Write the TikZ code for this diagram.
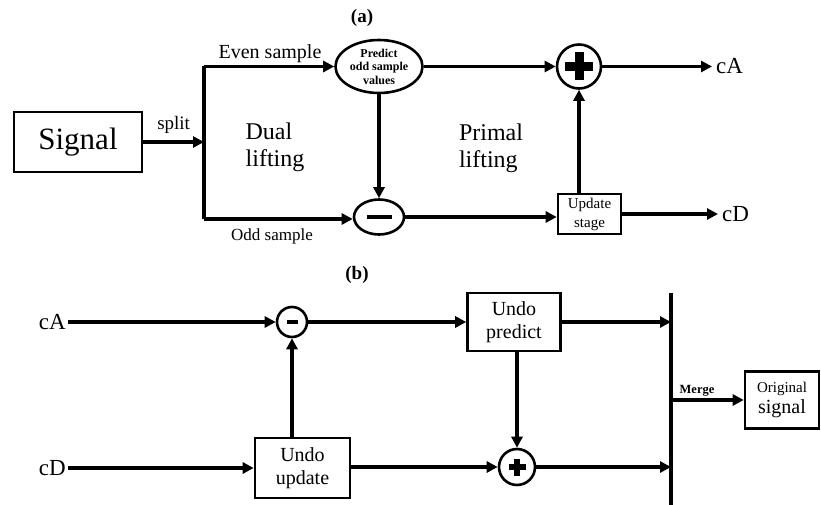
\documentclass[tikz,border=0pt]{standalone}
\usepackage{fontspec}
\setmainfont{Liberation Serif}
\usetikzlibrary{arrows.meta,shapes.geometric}
\tikzset{
  arr/.style={line width=3.3pt,-{Triangle[length=11pt,width=11pt]}},
  ln/.style={line width=3.3pt},
  blk/.style={draw,line width=2.6pt,rectangle,inner sep=0pt,align=center},
  ell/.style={draw,line width=2.6pt,ellipse,inner sep=0pt},
  lbl/.style={inner sep=0pt},
}
\begin{document}
\begin{tikzpicture}[x=1pt,y=-1pt]
\useasboundingbox (0,0) rectangle (821,505);
% ---------------- (a)
\node[lbl,font=\fontsize{19}{19}\selectfont\bfseries] (ta) at (362,18) {(a)};
\node[blk,minimum width=128pt,minimum height=60pt,font=\fontsize{31}{31}\selectfont] (signal) at (78,142) {Signal};
\coordinate (stop) at (204,66.5);
\coordinate (smid) at (204,142);
\coordinate (sbot) at (204,219);
\draw[arr] (signal.east) -- (smid) node[midway,above=3pt,font=\fontsize{19}{19}\selectfont] (split) {split};
\draw[ln] (stop) -- (sbot);
\node[ell,minimum width=87pt,minimum height=53pt,align=center,font=\fontsize{12}{13.5}\selectfont\bfseries] (pred) at (379,66.5) {Predict\\odd sample\\values};
\node[ell,minimum width=50pt,minimum height=35pt] (minus1) at (379,217) {};
\fill (minus1.center) +(-12.5,-1.7) rectangle +(12.5,1.7);
\node[ell,circle,minimum size=44pt] (plus1) at (579,66.5) {};
\fill (plus1.center) +(-14,-4.5) rectangle +(14,4.5);
\fill (plus1.center) +(-4.5,-14) rectangle +(4.5,14);
\node[blk,minimum width=63pt,minimum height=40pt,font=\fontsize{15}{19}\selectfont] (upd) at (589.5,214) {Update\\stage};
\node[lbl,anchor=west,inner sep=4pt,font=\fontsize{23}{23}\selectfont] (cA) at (712,66.5) {cA};
\node[lbl,anchor=west,inner sep=4pt,font=\fontsize{23}{23}\selectfont] (cD) at (718,214) {cD};
\draw[arr] (stop) -- (pred.west);
\node[lbl,font=\fontsize{20}{20}\selectfont] (even) at (270,54) {Even sample};
\draw[arr] (sbot) -- (minus1.west |- sbot);
\node[lbl,font=\fontsize{17}{17}\selectfont] (odd) at (272,236) {Odd sample};
\draw[arr] (pred.south) -- (minus1.north);
\draw[arr] (minus1.east) -- (minus1.east -| upd.west);
\draw[arr] (pred.east) -- (plus1.west);
\draw[arr] (plus1.east) -- (cA.west);
\draw[arr] (upd.east) -- (cD.west);
\draw[arr] (upd.north -| plus1.south) -- (plus1.south);
\node[lbl,align=left,font=\fontsize{24}{27}\selectfont] (dual) at (275,147) {Dual\\lifting};
\node[lbl,align=left,font=\fontsize{24}{27}\selectfont] (primal) at (491,148) {Primal\\lifting};
% ---------------- (b)
\node[lbl,font=\fontsize{19}{19}\selectfont\bfseries] (tb) at (357,275) {(b)};
\node[lbl,anchor=east,inner sep=2pt,font=\fontsize{23}{23}\selectfont] (cA2) at (68,322) {cA};
\node[lbl,anchor=east,inner sep=2pt,font=\fontsize{23}{23}\selectfont] (cD2) at (68,468) {cD};
\node[ell,circle,minimum size=30pt] (minus2) at (292,322) {};
\fill (minus2.center) +(-5.5,-1.7) rectangle +(5.5,1.7);
\node[ell,circle,minimum size=36pt] (plus2) at (517,467) {};
\fill (plus2.center) +(-8.5,-2.7) rectangle +(8.5,2.7);
\fill (plus2.center) +(-2.7,-8.5) rectangle +(2.7,8.5);
\node[blk,minimum width=95pt,minimum height=60pt,font=\fontsize{20}{23}\selectfont] (uupd) at (302.5,468) {Undo\\update};
\node[blk,minimum width=93pt,minimum height=58pt,font=\fontsize{20}{23}\selectfont] (upred) at (514,322) {Undo\\predict};
\coordinate (mtop) at (671,293);
\coordinate (mmid) at (671,400);
\coordinate (mbot) at (671,505);
\draw[line width=3.8pt] (mtop) -- (mbot);
\node[blk,minimum width=74pt,minimum height=57pt] (orig) at (782,400) {{\fontsize{15}{15}\selectfont Original}\\[3pt]{\fontsize{20}{20}\selectfont signal}};
\draw[arr] (cA2.east) -- (minus2.west);
\draw[arr] (cD2.east) -- (uupd.west |- cD2.east);
\draw[arr] (uupd.east |- plus2.west) -- (plus2.west);
\draw[arr] (uupd.north -| minus2.south) -- (minus2.south);
\draw[arr] (minus2.east) -- (upred.west);
\draw[arr] (upred.south -| plus2.north) -- (plus2.north);
\draw[arr] (upred.east) -- (upred.east -| mtop);
\draw[arr] (plus2.east) -- (plus2.east -| mtop);
\draw[arr] (mmid) -- (orig.west);
\node[lbl,font=\fontsize{12.5}{12.5}\selectfont\bfseries] (merge) at (697,391) {Merge};
\end{tikzpicture}
\end{document}
